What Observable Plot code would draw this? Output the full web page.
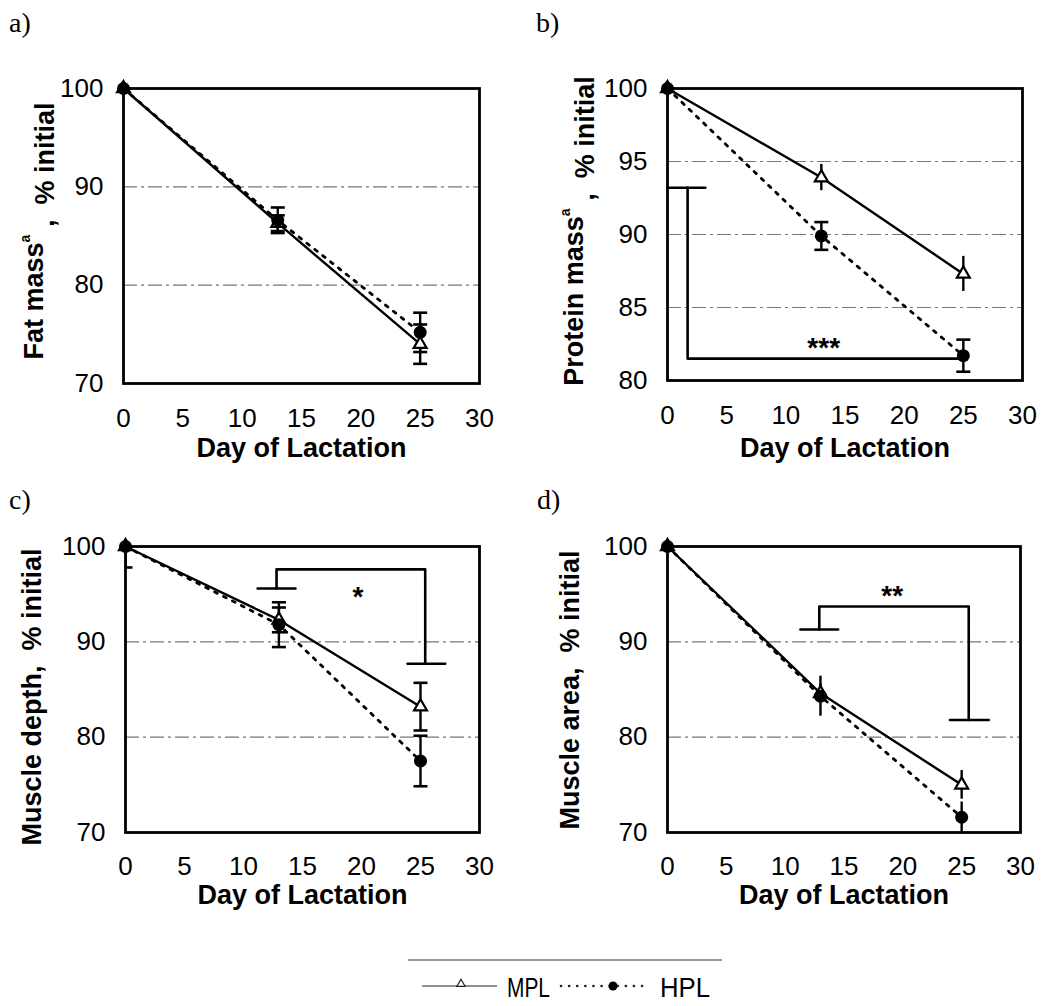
<!DOCTYPE html>
<html>
<head>
<meta charset="utf-8">
<script src="https://cdn.jsdelivr.net/npm/d3@7"></script>
<script src="https://cdn.jsdelivr.net/npm/@observablehq/plot@0.6"></script>
<style>
  html, body { margin: 0; padding: 0; background: #fff; }
  #root { position: relative; width: 1049px; height: 1006px; overflow: hidden; background: #fff; }
  #root > svg.panel { position: absolute; }
  #root > svg.panel g[aria-label="x-axis tick label"],
  #root > svg.panel g[aria-label="y-axis tick label"] { font-size: 26px !important; }
  #overlay { position: absolute; left: 0; top: 0; }
</style>
</head>
<body>
<div id="root"></div>
<script>
// ---------- data ----------
const days = [0, 13, 25];
const xTicks = [0, 5, 10, 15, 20, 25, 30];

// a) Fat mass
const fatMPL = [100, 86.3, 74.0];
const fatMPLsd = [0, 0.8, 2.0];
const fatHPL = [100, 86.6, 75.2];
const fatHPLsd = [0, 1.3, 2.0];
const fatTicks = [70, 80, 90, 100];
const fatGrid = [80, 90];

// b) Protein mass
const protMPL = [100, 93.9, 87.3];
const protMPLsd = [0, 0.9, 1.2];
const protHPL = [100, 89.9, 81.7];
const protHPLsd = [0, 0.95, 1.1];
const protTicks = [80, 85, 90, 95, 100];
const protGrid = [85, 90, 95];
const protBracket = [
  {g: 0, x: 0, y: 93.2}, {g: 0, x: 3.2, y: 93.2},
  {g: 1, x: 1.7, y: 93.2}, {g: 1, x: 1.7, y: 81.5}, {g: 1, x: 24.9, y: 81.5}
];
const protStars = [{x: 13.2, y: 82.7, label: "***"}];

// c) Muscle depth
const depthMPL = [100, 92.3, 83.2];
const depthMPLsd = [0, 1.3, 2.5];
const depthHPL = [100, 91.8, 77.5];
const depthHPLsd = [2.2, 2.35, 2.65];
const depthTicks = [70, 80, 90, 100];
const depthGrid = [80, 90];
const depthBracket = [
  {g: 0, x: 11.2, y: 95.6}, {g: 0, x: 14.4, y: 95.6},
  {g: 1, x: 12.8, y: 95.6}, {g: 1, x: 12.8, y: 97.6}, {g: 1, x: 25.4, y: 97.6}, {g: 1, x: 25.4, y: 87.7},
  {g: 2, x: 23.9, y: 87.7}, {g: 2, x: 27.1, y: 87.7}
];
const depthStars = [{x: 19.7, y: 95.4, label: "*"}];

// d) Muscle area
const areaMPL = [100, 84.6, 75.0];
const areaMPLsd = [0, 1.0, 1.5];
const areaHPL = [100, 84.3, 71.6];
const areaHPLsd = [0, 2.1, 1.6];
const areaTicks = [70, 80, 90, 100];
const areaGrid = [80, 90];
const areaBracket = [
  {g: 0, x: 11.3, y: 91.3}, {g: 0, x: 14.5, y: 91.3},
  {g: 1, x: 12.9, y: 91.3}, {g: 1, x: 12.9, y: 93.7}, {g: 1, x: 25.6, y: 93.7}, {g: 1, x: 25.6, y: 81.8},
  {g: 2, x: 24.0, y: 81.8}, {g: 2, x: 27.3, y: 81.8}
];
const areaStars = [{x: 19.1, y: 95.5, label: "**"}];

// ---------- drawing ----------
const capSymbol = {
  draw(context, size) {
    const w = Math.sqrt(size / Math.PI);
    context.moveTo(-w, 0);
    context.lineTo(w, 0);
  }
};

function panel(cfg) {
  const rows = [];
  days.forEach((d, i) => {
    rows.push({day: d, series: "MPL", v: cfg.mpl[i], sd: cfg.mplSd[i], cap: cfg.capMPL});
    rows.push({day: d, series: "HPL", v: cfg.hpl[i], sd: cfg.hplSd[i], cap: cfg.capHPL});
  });
  const mplRows = rows.filter(r => r.series === "MPL");
  const hplRows = rows.filter(r => r.series === "HPL");
  const err = rows.filter(r => r.sd > 0);
  const caps = err.filter(r => r.cap).flatMap(r => [{day: r.day, y: r.v - r.sd}, {day: r.day, y: r.v + r.sd}]);
  const m = cfg.margin;
  const plot = Plot.plot({
    width: cfg.w, height: cfg.h,
    marginTop: m[0], marginRight: m[1], marginBottom: m[2], marginLeft: m[3],
    x: {domain: [0, 30]},
    y: {domain: cfg.yDomain},
    style: {fontFamily: "'Liberation Sans', Arial, sans-serif", fontSize: "26px", color: "black", background: "transparent", overflow: "visible"},
    marks: [
      Plot.ruleY(cfg.grid, {stroke: "#777", strokeWidth: 1.2, strokeDasharray: "14,4,3,4"}),
      Plot.axisX(xTicks, {tickSize: 0, tickPadding: cfg.xPad, label: null, fontSize: 26}),
      Plot.axisY(cfg.yTicks, {tickSize: 0, tickPadding: 20, label: null, fontSize: 26}),
      Plot.text(["Day of Lactation"], {frameAnchor: "bottom", lineAnchor: "middle", dy: cfg.labelDy, fontWeight: "bold", fontSize: 27}),
      cfg.bracket ? Plot.line(cfg.bracket, {x: "x", y: "y", z: "g", stroke: "black", strokeWidth: 2.6}) : null,
      cfg.stars ? Plot.text(cfg.stars, {x: "x", y: "y", text: "label", fontWeight: "bold", fontSize: 28, dy: 7}) : null,
      Plot.line(mplRows, {x: "day", y: "v", stroke: "black", strokeWidth: 2.4}),
      Plot.line(hplRows, {x: "day", y: "v", stroke: "black", strokeWidth: 2.8, strokeDasharray: "3,7"}),
      Plot.ruleX(err, {x: "day", y1: r => r.v - r.sd, y2: r => r.v + r.sd, stroke: "black", strokeWidth: 2.4, clip: true}),
      Plot.dot(caps, {x: "day", y: "y", symbol: capSymbol, r: 7, stroke: "black", strokeWidth: 2.6, clip: true}),
      Plot.dot(mplRows, {x: "day", y: "v", symbol: "triangle", r: 4.8, fill: "white", stroke: "black", strokeWidth: 2.2}),
      Plot.dot(hplRows, {x: "day", y: "v", r: 6.5, fill: "black", stroke: "none"}),
      Plot.frame({stroke: "black", strokeWidth: 2.8})
    ].filter(Boolean)
  });
  plot.classList.add("panel");
  plot.style.left = cfg.left + "px";
  plot.style.top = cfg.top + "px";
  return plot;
}

const root = document.getElementById("root");

root.appendChild(panel({
  left: 0, top: 0, w: 520, h: 470, margin: [88, 41, 87, 123],
  mpl: fatMPL, mplSd: fatMPLsd, hpl: fatHPL, hplSd: fatHPLsd, capMPL: true, capHPL: true,
  yDomain: [70, 100], yTicks: fatTicks, grid: fatGrid, xPad: 25, labelDy: 65
}));
root.appendChild(panel({
  left: 520, top: 0, w: 529, h: 470, margin: [88, 27, 90, 147],
  mpl: protMPL, mplSd: protMPLsd, hpl: protHPL, hplSd: protHPLsd, capMPL: false, capHPL: true,
  yDomain: [80, 100], yTicks: protTicks, grid: protGrid, xPad: 25, labelDy: 68,
  bracket: protBracket, stars: protStars
}));
root.appendChild(panel({
  left: 0, top: 470, w: 520, h: 440, margin: [76, 41, 78, 125],
  mpl: depthMPL, mplSd: depthMPLsd, hpl: depthHPL, hplSd: depthHPLsd, capMPL: true, capHPL: true,
  yDomain: [70, 100], yTicks: depthTicks, grid: depthGrid, xPad: 24, labelDy: 63,
  bracket: depthBracket, stars: depthStars
}));
root.appendChild(panel({
  left: 520, top: 470, w: 529, h: 440, margin: [76, 29, 78, 147],
  mpl: areaMPL, mplSd: areaMPLsd, hpl: areaHPL, hplSd: areaHPLsd, capMPL: false, capHPL: false,
  yDomain: [70, 100], yTicks: areaTicks, grid: areaGrid, xPad: 24, labelDy: 63,
  bracket: areaBracket, stars: areaStars
}));

// ---------- overlay: panel letters, y labels, legend ----------
const panelLetters = [["a)", 9, 32], ["b)", 536, 32], ["c)", 9, 509], ["d)", 537, 509]];
const yLabels = [
  {x: 33, y: 231, main: "Fat mass", sup: "a", rest: " ,  % initial"},
  {x: 573, y: 231, main: "Protein mass", sup: "a", rest: " ,  % initial"},
  {x: 31, y: 697, main: "Muscle depth,  % initial", sup: "", rest: ""},
  {x: 569, y: 690, main: "Muscle area,  % initial", sup: "", rest: ""}
];
const legendItems = ["MPL", "HPL"];

const ov = d3.select(root).append("svg").attr("id", "overlay")
  .attr("width", 1049).attr("height", 1006)
  .style("font-family", "'Liberation Sans', Arial, sans-serif");

ov.selectAll("text.letter").data(panelLetters).join("text")
  .attr("class", "letter")
  .attr("x", d => d[1]).attr("y", d => d[2])
  .attr("font-family", "'Liberation Serif', 'Times New Roman', serif")
  .attr("font-size", 28)
  .text(d => d[0]);

yLabels.forEach(l => {
  const t = ov.append("text")
    .attr("transform", `translate(${l.x},${l.y}) rotate(-90)`)
    .attr("text-anchor", "middle")
    .attr("dy", "0.36em")
    .attr("font-weight", "bold")
    .attr("font-size", 27)
    .attr("xml:space", "preserve")
    .style("white-space", "pre");
  t.append("tspan").text(l.main);
  if (l.sup) {
    t.append("tspan").attr("font-size", 14).attr("dy", "-0.9em").text(l.sup);
    t.append("tspan").attr("dy", "0.9em").text(l.rest);
  }
});

// legend
ov.append("line").attr("x1", 408).attr("x2", 722).attr("y1", 960).attr("y2", 960)
  .attr("stroke", "#333").attr("stroke-width", 1.2);
ov.append("line").attr("x1", 422).attr("x2", 497).attr("y1", 986).attr("y2", 986)
  .attr("stroke", "#222").attr("stroke-width", 1.2);
ov.append("path").attr("d", d3.symbol(d3.symbolTriangle, 30)())
  .attr("transform", "translate(461,984)").attr("fill", "white").attr("stroke", "#222").attr("stroke-width", 1.2);
ov.append("line").attr("x1", 561).attr("x2", 645).attr("y1", 986).attr("y2", 986)
  .attr("stroke", "#222").attr("stroke-width", 2.6).attr("stroke-dasharray", "0.1,8")
  .attr("stroke-linecap", "round");
ov.append("circle").attr("cx", 613).attr("cy", 986).attr("r", 4.5).attr("fill", "black");
ov.selectAll("text.leg").data(legendItems).join("text")
  .attr("class", "leg")
  .attr("x", (d, i) => i === 0 ? 507 : 660)
  .attr("y", 997)
  .attr("font-size", 28)
  .attr("textLength", (d, i) => i === 0 ? 43 : 50)
  .attr("lengthAdjust", "spacingAndGlyphs")
  .text(d => d);
</script>
</body>
</html>
